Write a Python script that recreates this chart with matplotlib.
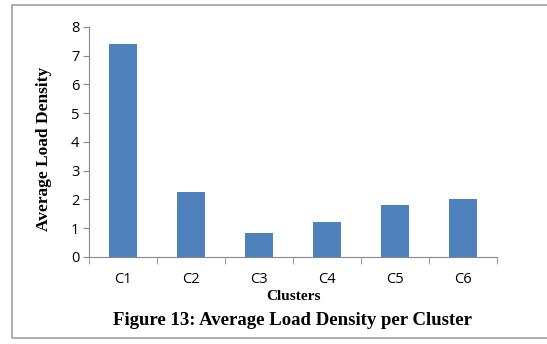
import matplotlib.pyplot as plt
from matplotlib.patches import Rectangle

# data
clusters = ["C1", "C2", "C3", "C4", "C5", "C6"]
load_density = [7.42, 2.25, 0.82, 1.22, 1.80, 2.02]
y_ticks = [0, 1, 2, 3, 4, 5, 6, 7, 8]

fig = plt.figure(figsize=(5.47, 3.44), dpi=100)
ax = fig.add_axes([0.163, 0.253, 0.746, 0.669])

x = list(range(len(clusters)))
ax.bar(x, load_density, width=0.41, color="#4F81BD", zorder=2)

ax.set_xlim(-0.5, len(clusters) - 0.5)
ax.set_ylim(0, 8)
ax.set_yticks(y_ticks)
ax.set_xticks(x)
ax.set_xticklabels(clusters)
# category boundary ticks like Excel
ax.set_xticks([i - 0.5 for i in range(len(clusters) + 1)], minor=True)
ax.tick_params(axis="x", which="major", length=0, pad=11)
ax.tick_params(axis="x", which="minor", length=5, color="#888888", direction="out")
ax.tick_params(axis="y", length=4, color="#888888", direction="out", pad=3)

for lab in ax.get_xticklabels() + ax.get_yticklabels():
    lab.set_family("Open Sans")
    lab.set_fontsize(10.5)

for side in ["top", "right"]:
    ax.spines[side].set_visible(False)
for side in ["left", "bottom"]:
    ax.spines[side].set_color("#888888")
    ax.spines[side].set_linewidth(0.8)

ax.set_ylabel("Average Load Density", family="Liberation Serif", fontweight="bold",
              fontsize=12.5)
ax.yaxis.set_label_coords(-0.09, 0.47)
ax.set_xlabel("Clusters", family="Liberation Serif", fontweight="bold",
              fontsize=11, labelpad=2)

fig.text(0.535, 0.055, "Figure 13: Average Load Density per Cluster",
         family="Liberation Serif", fontweight="bold", fontsize=13.5, ha="center")

# light frame around the chart
fig.patches.append(Rectangle((0.022, 0.017), 0.99, 0.968, transform=fig.transFigure,
                             fill=False, edgecolor="#A0A0A0", linewidth=1.2))

fig.savefig("out.png", dpi=100)
